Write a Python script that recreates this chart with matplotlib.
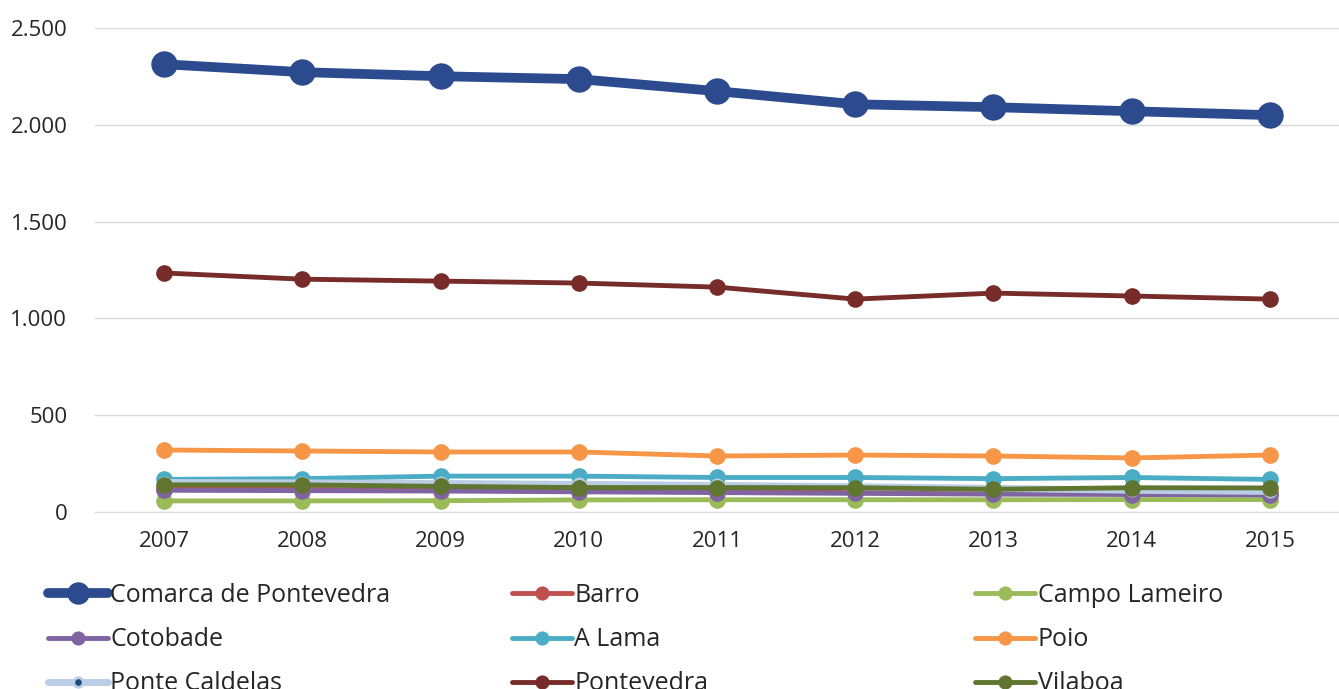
import numpy as np
from matplotlib import pyplot as plt
from matplotlib.ticker import FuncFormatter

years = ['2007', '2008', '2009', '2010', '2011', '2012', '2013', '2014', '2015']

comarca = [2314, 2273, 2252, 2237, 2175, 2107, 2092, 2071, 2051]
barro = [118, 116, 114, 110, 108, 104, 100, 100, 98]
campo_lameiro = [57, 57, 58, 62, 63, 63, 63, 64, 64]
cotobade = [112, 110, 108, 104, 100, 96, 92, 90, 88]
a_lama = [168, 172, 185, 185, 178, 178, 172, 178, 168]
poio = [320, 315, 310, 310, 289, 294, 289, 279, 294]
ponte_caldelas = [152, 150, 147, 142, 137, 130, 122, 112, 106]
pontevedra = [1235, 1203, 1193, 1183, 1162, 1100, 1131, 1116, 1100]
vilaboa = [140, 140, 132, 126, 126, 125, 117, 125, 124]

series = [
    ('Comarca de Pontevedra', comarca, '#2C4A8E', '#2C4A8E', 7, 19),
    ('Barro', barro, '#C0504D', '#C0504D', 3.5, 12),
    ('Campo Lameiro', campo_lameiro, '#9BBB59', '#9BBB59', 3.5, 12),
    ('Cotobade', cotobade, '#8064A2', '#8064A2', 3.5, 12),
    ('A Lama', a_lama, '#4BACC6', '#4BACC6', 3.5, 12),
    ('Poio', poio, '#F79646', '#F79646', 3.5, 12),
    ('Ponte Caldelas', ponte_caldelas, '#B9CDE5', '#1F497D', 5, 8),
    ('Pontevedra', pontevedra, '#772C2A', '#772C2A', 3.5, 12),
    ('Vilaboa', vilaboa, '#5F7530', '#5F7530', 3.5, 12),
]

plt.rcParams['font.family'] = ['Open Sans', 'DejaVu Sans']

fig = plt.figure(figsize=(13.39, 6.89), dpi=100)
ax = fig.add_axes([0.071, 0.257, 0.929, 0.702])

x = np.arange(len(years))
handles = {}
for name, vals, lc, mc, lw, ms in series:
    h, = ax.plot(x, vals, color=lc, lw=lw, marker='o', ms=ms,
                 markerfacecolor=mc, markeredgecolor=lc,
                 markeredgewidth=2 if name == 'Ponte Caldelas' else 0,
                 solid_capstyle='round', label=name, clip_on=False)
    handles[name] = h

ax.set_xlim(-0.5, len(years) - 0.5)
ax.set_ylim(0, 2500)
ax.set_yticks(np.arange(0, 2501, 500))
ax.yaxis.set_major_formatter(FuncFormatter(lambda v, p: f'{int(v):,}'.replace(',', '.')))
ax.set_xticks(x)
ax.set_xticklabels(years)
ax.grid(axis='y', color='#D9D9D9', lw=1)
ax.set_axisbelow(True)
for s in ['top', 'right', 'left']:
    ax.spines[s].set_visible(False)
ax.spines['bottom'].set_color('#D9D9D9')
ax.tick_params(axis='both', length=0, labelsize=16, colors='#262626')
ax.tick_params(axis='x', pad=14)
ax.tick_params(axis='y', pad=20)

# legend: three separate columns, filled row by row like the original
cols = [
    ['Comarca de Pontevedra', 'Cotobade', 'Ponte Caldelas'],
    ['Barro', 'A Lama', 'Pontevedra'],
    ['Campo Lameiro', 'Poio', 'Vilaboa'],
]
col_x = [48, 512, 975]
for names, cx in zip(cols, col_x):
    leg = fig.legend([handles[n] for n in names], names, loc='upper left',
                     bbox_to_anchor=(cx / 1339, 1 - 583 / 689), frameon=False,
                     fontsize=18, handlelength=2.4, handletextpad=0.1,
                     labelspacing=0.77, borderpad=0, borderaxespad=0,
                     markerscale=0.85)
    for t in leg.get_texts():
        t.set_color('#262626')

fig.savefig('out.png', dpi=100)
